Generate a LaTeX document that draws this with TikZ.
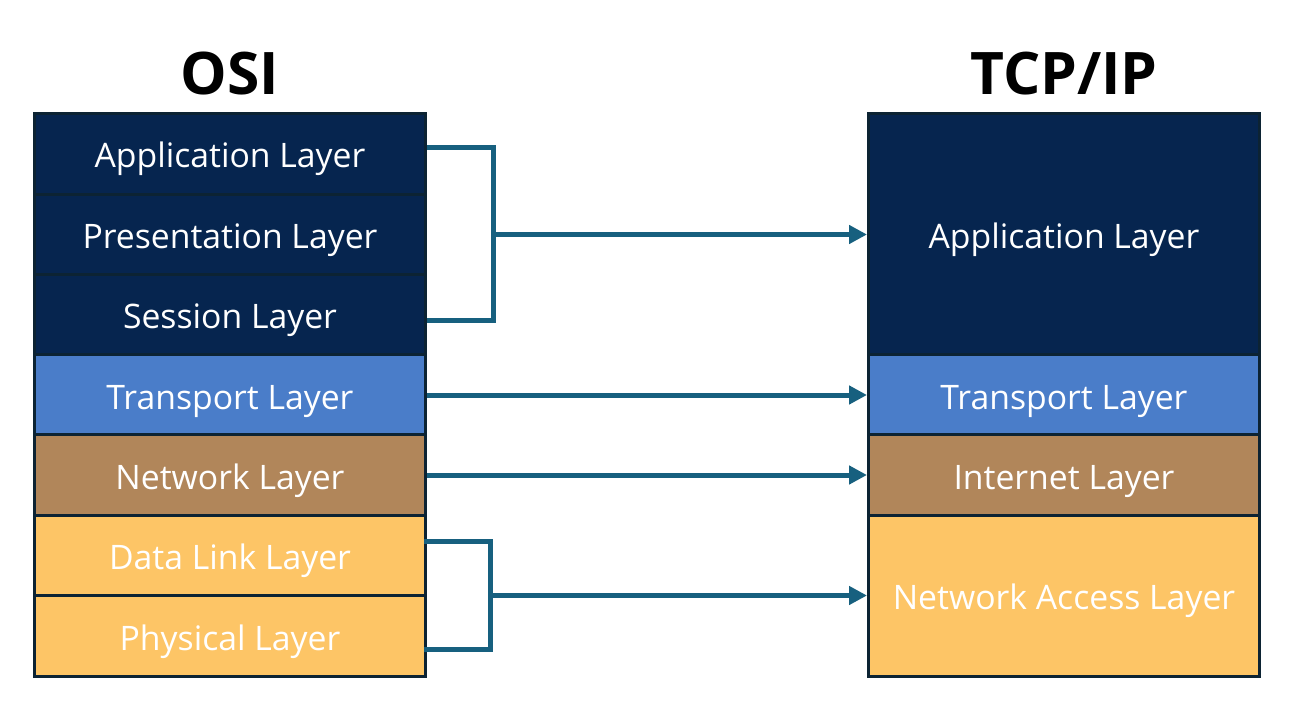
\documentclass[tikz,border=0pt]{standalone}
\usepackage{fontspec}
\setmainfont{Open Sans}
\usetikzlibrary{arrows.meta,calc}
\definecolor{navy}{HTML}{06254F}
\definecolor{tblue}{HTML}{4A7DC9}
\definecolor{tbrown}{HTML}{B1865A}
\definecolor{ylw}{HTML}{FDC566}
\definecolor{edge}{HTML}{0C2333}
\definecolor{conn}{HTML}{17607F}
\begin{document}
\begin{tikzpicture}[x=0.75pt,y=-0.75pt,
  layer/.style={draw=edge, line width=2.25pt, minimum width=293.25pt, text=white,
    font=\fontsize{25.3}{29}\selectfont, inner sep=0pt, text height=21pt, text depth=0pt},
  row/.style={layer, minimum height=60.2pt},
  link/.style={draw=conn, line width=3.75pt},
  arr/.style={link, -{Triangle[length=13.5pt,width=13.5pt]}},
  title/.style={font=\bfseries\fontsize{44}{50}\selectfont, inner sep=0pt, anchor=base}]
\fill[white] (0,0) rectangle (1300,720);
\useasboundingbox (0,0) rectangle (1300,720);
% titles
\node[title] (tosi) at (230,95) {OSI};
\node[title] (ttcp) at (1064,95) {TCP/IP};
% OSI column
\node[row, fill=navy]  (oapp) at (230,154)   {Application Layer};
\node[row, fill=navy]  (opre) at (230,234.5) {Presentation Layer};
\node[row, fill=navy]  (oses) at (230,315)   {Session Layer};
\node[row, fill=tblue] (otra) at (230,395)   {Transport Layer};
\node[row, fill=tbrown](onet) at (230,475)   {Network Layer};
\node[row, fill=ylw]   (odl)  at (230,555.5) {Data Link Layer};
\node[row, fill=ylw]   (ophy) at (230,636)   {Physical Layer};
% TCP/IP column
\node[layer, fill=navy, minimum height=180.75pt] (tapp) at (1064,234.5) {Application Layer};
\node[row, fill=tblue]  (ttra) at (1064,395) {Transport Layer};
\node[row, fill=tbrown] (tint) at (1064,475) {Internet Layer};
\node[layer, fill=ylw, minimum height=120.75pt] (tna) at (1064,595.5) {Network Access Layer};
% connectors
\coordinate (b1) at (493,234.5);
\coordinate (b2) at (490,595.5);
\draw[link] ($(oapp.east)+(0,-6)$) -| (b1) |- ($(oses.east)+(0,6)$);
\draw[arr] (b1) -- (tapp.west);
\draw[arr] (otra) -- (ttra);
\draw[arr] (onet) -- (tint);
\draw[link] ($(odl.east)+(-3,-14.5)$) -| (b2) |- ($(ophy.east)+(-3,13)$);
\draw[arr] (b2) -- (tna.west);
\end{tikzpicture}
\end{document}
